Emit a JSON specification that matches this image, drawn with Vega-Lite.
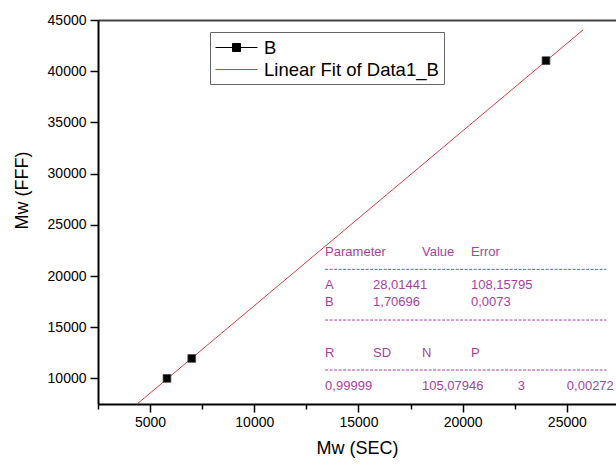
{
  "$schema": "https://vega.github.io/schema/vega-lite/v6.json",
  "width": 518,
  "height": 384,
  "autosize": {"type": "none"},
  "padding": {"left": 98, "top": 20, "right": 0, "bottom": 60},
  "background": "white",
  "config": {
    "view": {"stroke": null},
    "font": "Liberation Sans",
    "axis": {"grid": false, "labelFont": "Liberation Sans", "titleFont": "Liberation Sans"}
  },
  "resolve": {"axis": {"x": "independent", "y": "independent"}},
  "datasets": {
    "series": [
      {"series": "B", "x": 5810, "y": 10000},
      {"series": "B", "x": 7000, "y": 11950},
      {"series": "B", "x": 24000, "y": 41030},
      {"series": "Linear Fit of Data1_B", "x": 4377, "y": 7500},
      {"series": "Linear Fit of Data1_B", "x": 25780, "y": 44033}
    ],
    "dashes": [
      {"x": 13400, "x2": 26900, "y": 20650},
      {"x": 13400, "x2": 26900, "y": 15700},
      {"x": 13400, "x2": 26900, "y": 10820}
    ],
    "stats": [
      {"label": "Parameter", "x": 13400, "y": 22370},
      {"label": "Value", "x": 18050, "y": 22370},
      {"label": "Error", "x": 20400, "y": 22370},
      {"label": "A", "x": 13400, "y": 19120},
      {"label": "28,01441", "x": 15700, "y": 19120},
      {"label": "108,15795", "x": 20400, "y": 19120},
      {"label": "B", "x": 13400, "y": 17490},
      {"label": "1,70696", "x": 15700, "y": 17490},
      {"label": "0,0073", "x": 20400, "y": 17490},
      {"label": "R", "x": 13400, "y": 12450},
      {"label": "SD", "x": 15700, "y": 12450},
      {"label": "N", "x": 18050, "y": 12450},
      {"label": "P", "x": 20400, "y": 12450},
      {"label": "0,99999", "x": 13400, "y": 9290},
      {"label": "105,07946", "x": 18050, "y": 9290},
      {"label": "3", "x": 22650, "y": 9290},
      {"label": "0,00272", "x": 25000, "y": 9290}
    ]
  },
  "layer": [
    {
      "data": {"name": "series"},
      "transform": [{"filter": "datum.series !== 'B'"}],
      "mark": {"type": "line", "strokeWidth": 1},
      "encoding": {
        "x": {
          "field": "x", "type": "quantitative",
          "scale": {"domain": [2500, 27360], "nice": false, "zero": false},
          "axis": {
            "orient": "bottom",
            "title": "Mw (SEC)",
            "values": [5000, 10000, 15000, 20000, 25000],
            "format": "d",
            "domainColor": "black", "domainWidth": 2,
            "tickColor": "black", "tickWidth": 1.5, "tickSize": 8,
            "labelFontSize": 14, "labelColor": "black", "labelPadding": 3,
            "labelFlush": false, "labelOverlap": false,
            "titleFontSize": 18, "titleFontWeight": "normal", "titleColor": "black", "titlePadding": 10
          }
        },
        "y": {
          "field": "y", "type": "quantitative",
          "scale": {"domain": [7500, 45000], "nice": false, "zero": false},
          "axis": {
            "title": "Mw (FFF)",
            "values": [10000, 15000, 20000, 25000, 30000, 35000, 40000, 45000],
            "format": "d",
            "domainColor": "black", "domainWidth": 2,
            "tickColor": "black", "tickWidth": 1.5, "tickSize": 8,
            "labelFontSize": 14, "labelColor": "black", "labelPadding": 4,
            "labelFlush": false, "labelOverlap": false,
            "titleFontSize": 18, "titleFontWeight": "normal", "titleColor": "black",
            "titleX": -76, "titleY": 170, "titleBaseline": "middle", "titleAngle": -90
          }
        },
        "color": {
          "field": "series", "type": "nominal",
          "scale": {"domain": ["B", "Linear Fit of Data1_B"], "range": ["#000000", "#e03c3c"]},
          "legend": {
            "orient": "none", "legendX": 112, "legendY": 12, "title": null,
            "padding": 5, "strokeColor": "#666666", "fillColor": "white",
            "labelFontSize": 18.5, "labelFont": "Liberation Sans", "labelColor": "black",
            "labelLimit": 400,
            "symbolSize": 400, "symbolOffset": 11, "labelOffset": 17, "rowPadding": 2,
            "symbolStrokeWidth": 1,
            "encode": {
              "symbols": {
                "update": {
                  "shape": {"signal": "datum.value === 'B' ? 'M-2.1,0H2.1M-0.4,-0.4H0.4V0.4H-0.4Z' : 'M-2.1,0H2.1'"},
                  "fill": {"signal": "datum.value === 'B' ? 'black' : 'transparent'"},
                  "stroke": {"signal": "datum.value === 'B' ? 'black' : '#e03c3c'"},
                  "strokeWidth": {"value": 1},
                  "opacity": {"value": 1}
                }
              }
            }
          }
        }
      }
    },
    {
      "data": {"name": "series"},
      "transform": [{"filter": "datum.series === 'B'"}],
      "mark": {"type": "point", "shape": "square", "filled": true, "size": 60, "opacity": 1, "stroke": "#444444", "strokeWidth": 0.8},
      "encoding": {
        "x": {
          "field": "x", "type": "quantitative",
          "scale": {"domain": [2500, 27360], "nice": false, "zero": false},
          "axis": {
            "orient": "top",
            "values": [5000, 10000, 15000, 20000, 25000],
            "labels": false, "domain": true, "title": null, "grid": false,
            "domainColor": "#444444", "domainWidth": 2,
            "ticks": true, "tickSize": 0, "tickColor": "#444444", "tickWidth": 1
          }
        },
        "y": {
          "field": "y", "type": "quantitative",
          "scale": {"domain": [7500, 45000], "nice": false, "zero": false},
          "axis": {
            "values": [7500, 12500, 17500, 22500, 27500, 32500, 37500, 42500],
            "labels": false, "domain": false, "title": null, "grid": false,
            "tickColor": "black", "tickWidth": 1.5, "tickSize": 4
          }
        },
        "color": {"field": "series", "type": "nominal", "scale": {"domain": ["B", "Linear Fit of Data1_B"], "range": ["#000000", "#e03c3c"]}}
      }
    },
    {
      "data": {"name": "dashes"},
      "mark": {"type": "rule", "color": "#a93f9f", "strokeWidth": 1, "strokeDash": [3, 1.5]},
      "encoding": {
        "x": {
          "field": "x", "type": "quantitative",
          "scale": {"domain": [2500, 27360], "nice": false, "zero": false},
          "axis": {
            "orient": "bottom",
            "values": [2500, 7500, 12500, 17500, 22500, 27500],
            "labels": false, "domain": false, "title": null, "grid": false,
            "tickColor": "black", "tickWidth": 1.5, "tickSize": 5
          }
        },
        "x2": {"field": "x2"},
        "y": {"field": "y", "type": "quantitative", "scale": {"domain": [7500, 45000], "nice": false, "zero": false}, "axis": null}
      }
    },
    {
      "data": {"name": "stats"},
      "mark": {"type": "text", "align": "left", "baseline": "middle", "fontSize": 13, "font": "Liberation Sans", "color": "#a93f9f"},
      "encoding": {
        "x": {"field": "x", "type": "quantitative", "scale": {"domain": [2500, 27360], "nice": false, "zero": false}, "axis": null},
        "y": {"field": "y", "type": "quantitative", "scale": {"domain": [7500, 45000], "nice": false, "zero": false}, "axis": null},
        "text": {"field": "label"}
      }
    }
  ]
}
